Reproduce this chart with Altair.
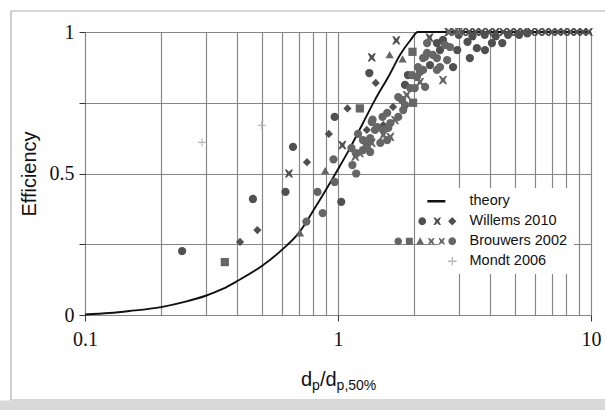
import altair as alt
import pandas as pd

# ---------------- data ----------------
theory_x = [0.1, 0.125, 0.15, 0.2, 0.25, 0.3, 0.35, 0.4, 0.5, 0.6, 0.7, 0.8, 0.9,
            1.0, 1.1, 1.25, 1.4, 1.6, 1.76, 1.93, 2.07, 3.0, 5.0, 10.0]
theory_y = [0.002, 0.007, 0.014, 0.028, 0.047, 0.068, 0.092, 0.12, 0.173, 0.23, 0.29,
            0.37, 0.445, 0.515, 0.58, 0.675, 0.76, 0.85, 0.92, 0.97, 1.0, 1.0, 1.0, 1.0]

willems_circles = [
    (0.242, 0.226), (0.461, 0.41), (0.62, 0.435), (0.664, 0.594), (0.97, 0.70),
    (1.03, 0.40), (1.33, 0.855), (1.89, 0.848), (2.31, 0.883), (2.53, 0.936),
    (2.46, 0.961), (1.84, 0.813), (2.60, 0.972), (2.96, 0.936), (2.85, 0.876),
    (3.32, 0.908), (3.25, 0.965), (3.54, 0.943), (3.81, 0.936), (4.06, 0.961),
    (4.46, 0.961), (3.0, 0.99), (3.4, 0.985), (3.8, 0.99), (4.2, 0.985),
    (4.7, 0.99), (5.2, 0.99), (5.6, 0.995)]
willems_x = [
    (0.64, 0.50), (1.04, 0.60), (1.36, 0.91), (1.70, 0.97), (2.30, 0.98),
    (2.73, 1.0), (2.9, 1.0), (3.1, 1.0), (3.3, 1.0), (3.5, 1.0), (3.7, 1.0),
    (3.95, 1.0), (4.2, 1.0), (4.5, 1.0), (4.8, 1.0), (5.1, 1.0), (5.4, 1.0),
    (5.8, 1.0), (6.2, 1.0), (6.6, 1.0), (7.0, 1.0), (7.4, 1.0), (7.8, 1.0),
    (8.3, 1.0), (8.8, 1.0), (9.3, 1.0), (9.8, 1.0)]
willems_diamonds = [
    (0.41, 0.258), (0.48, 0.30), (0.754, 0.54), (0.92, 0.64), (1.09, 0.73),
    (1.41, 0.82), (1.65, 0.735), (1.30, 0.654), (1.51, 0.671)]
brouwers_circles = [
    (0.75, 0.33), (0.83, 0.435), (0.87, 0.36), (0.96, 0.55), (0.97, 0.47),
    (1.13, 0.59), (1.14, 0.53), (1.18, 0.50), (1.18, 0.57), (1.2, 0.64),
    (1.37, 0.69), (1.51, 0.654), (1.61, 0.678), (1.73, 0.70), (1.79, 0.76),
    (1.93, 0.802), (2.05, 0.841), (2.17, 0.866), (2.17, 0.908), (2.37, 0.919),
    (2.65, 0.954), (1.47, 0.608), (1.40, 0.654), (1.34, 0.625), (1.30, 0.601),
    (1.255, 0.583), (1.50, 0.70), (1.565, 0.714), (1.81, 0.724), (1.73, 0.77),
    (2.01, 0.802), (2.07, 0.876), (2.25, 0.926), (2.46, 0.866), (2.70, 0.901),
    (1.255, 0.618), (1.36, 0.682), (1.58, 0.661), (1.30, 0.59), (1.34, 0.576),
    (1.565, 0.618), (1.43, 0.664), (2.25, 0.961), (2.21, 0.912), (2.46, 0.908),
    (2.77, 0.947), (2.53, 0.876), (1.96, 0.848), (2.11, 0.859), (2.21, 0.806),
    (1.84, 0.742)]
brouwers_squares = [(0.357, 0.187), (1.22, 0.73), (1.97, 0.93), (1.98, 0.75)]
brouwers_triangles = [(0.708, 0.29), (0.89, 0.51), (1.6, 0.92), (1.8, 0.905)]
brouwers_x = [
    (1.17, 0.56), (2.6, 0.83), (1.87, 0.777), (1.61, 0.629), (1.51, 0.636),
    (1.68, 0.689), (2.11, 0.823), (1.36, 0.608), (1.22, 0.572), (2.75, 1.0), (3.0, 1.0)]
mondt_plus = [(0.29, 0.61), (0.50, 0.67)]

SERIES = ["theory", "Willems 2010", "Brouwers 2002", "Mondt 2006"]
SERIES_COLORS = ["#111111", "#505050", "#666666", "#b8b8b8"]

x_grid_values = [0.1, 0.2, 0.3, 0.4, 0.5, 0.6, 0.7, 0.8, 0.9,
                 1, 2, 3, 4, 5, 6, 7, 8, 9, 10]
y_tick_values = [0, 0.25, 0.5, 0.75, 1]

groups = [
    ("Willems 2010", "circle", willems_circles),
    ("Willems 2010", "x", willems_x),
    ("Willems 2010", "diamond", willems_diamonds),
    ("Brouwers 2002", "circle", brouwers_circles),
    ("Brouwers 2002", "square", brouwers_squares),
    ("Brouwers 2002", "triangle", brouwers_triangles),
    ("Brouwers 2002", "x", brouwers_x),
    ("Mondt 2006", "plus", mondt_plus),
]
rows = []
for s, m, pts in groups:
    for px, py in pts:
        rows.append({"x": px, "y": py, "series": s, "marker": m})
points = pd.DataFrame(rows)
theory = pd.DataFrame({"x": theory_x, "y": theory_y})

# ---------------- marker shapes ----------------
def f(v):
    return f"{v:.2f}"

X_PTS = [(-1, -1), (-0.55, -1), (0, -0.45), (0.55, -1), (1, -1), (0.45, 0), (1, 1),
         (0.55, 1), (0, 0.45), (-0.55, 1), (-1, 1), (-0.45, 0)]

def xm(cx, s):
    p = [(cx + a * s, b * s) for a, b in X_PTS]
    return "M" + "L".join(f"{f(a)},{f(b)}" for a, b in p) + "Z"

def circ(cx, r):
    return f"M{f(cx-r)},0A{f(r)},{f(r)} 0 1,0 {f(cx+r)},0A{f(r)},{f(r)} 0 1,0 {f(cx-r)},0Z"

def sq(cx, h):
    return f"M{f(cx-h)},{f(-h)}H{f(cx+h)}V{f(h)}H{f(cx-h)}Z"

def tri(cx, h):
    return f"M{f(cx)},{f(-h)}L{f(cx+h)},{f(h*0.85)}L{f(cx-h)},{f(h*0.85)}Z"

def dia(cx, h):
    return f"M{f(cx)},{f(-h)}L{f(cx+h)},0L{f(cx)},{f(h)}L{f(cx-h)},0Z"

def plus(cx, s, t):
    return (f"M{f(cx-s)},{f(-t)}H{f(cx-t)}V{f(-s)}H{f(cx+t)}V{f(-t)}H{f(cx+s)}"
            f"V{f(t)}H{f(cx+t)}V{f(s)}H{f(cx-t)}V{f(t)}H{f(cx-s)}Z")

def bar(x0, x1, t):
    return f"M{f(x0)},{f(-t)}H{f(x1)}V{f(t)}H{f(x0)}Z"

PAD = "M-21,-1.6L-21,-1.6M1.6,1.6L1.6,1.6"
LEG = {
    "theory": PAD + bar(-8.3, -2.3, 0.45),
    "Willems 2010": PAD + circ(-10, 1.3) + xm(-5, 1.25) + dia(0, 1.4),
    "Brouwers 2002": PAD + circ(-18, 1.25) + sq(-14.3, 1.15) + tri(-10.7, 1.3)
    + xm(-7, 1.1) + xm(-3.5, 1.1) + circ(0, 1.3),
    "Mondt 2006": PAD + plus(0, 1.45, 0.22),
}
shape_expr = (f"datum.value === 'theory' ? '{LEG['theory']}' : "
              f"datum.value === 'Willems 2010' ? '{LEG['Willems 2010']}' : "
              f"datum.value === 'Brouwers 2002' ? '{LEG['Brouwers 2002']}' : "
              f"'{LEG['Mondt 2006']}'")

MARKERS = ["circle", "square", "triangle", "diamond", "x", "plus"]
MARKER_SHAPES = ["circle", "square", "triangle-up", "diamond", xm(0, 1), plus(0, 1, 0.14)]

# ---------------- scales & axes ----------------
xscale = alt.Scale(type="log", domain=[0.1, 10], nice=False)
yscale = alt.Scale(domain=[0, 1], nice=False, zero=False)

xaxis = alt.Axis(
    values=x_grid_values, title=None, grid=True, gridColor="#858585", gridWidth=1.15,
    domain=False, tickSize=6, tickColor="#333333",
    tickOpacity={"condition": {"test": "datum.value == 0.1 || datum.value == 1 || datum.value == 10",
                               "value": 1}, "value": 0},
    labelExpr="datum.value == 0.1 ? '0.1' : datum.value == 1 ? '1' : datum.value == 10 ? '10' : ''",
    labelFont="Liberation Serif", labelFontSize=20, labelColor="#111111",
    labelPadding=8, labelOverlap=False, labelFlush=False, labelBound=False)
yaxis = alt.Axis(
    values=y_tick_values, title="Efficiency", grid=True, gridColor="#858585", gridWidth=1.15,
    domain=False, tickSize=6, tickColor="#333333",
    labelExpr="datum.value == 0 ? '0' : datum.value == 0.5 ? '0.5' : datum.value == 1 ? '1' : ''",
    labelFont="Liberation Serif", labelFontSize=20, labelColor="#111111", labelPadding=5,
    labelOverlap=False, labelFlush=False, labelBound=False,
    titleFont="Liberation Sans", titleFontSize=20, titleFontWeight="normal",
    titleColor="#111111", titleX=-50, titleY=141.5, titleBaseline="alphabetic",
    titleAngle=270)

legend = alt.Legend(
    title=None, orient="none", legendX=354, legendY=156, padding=6, fillColor="white",
    symbolSize=36, symbolStrokeWidth=0, labelFont="Liberation Sans", labelFontSize=14.5,
    labelColor="#111111", labelOffset=10, rowPadding=5,
    symbolType={"expr": shape_expr})

# ---------------- layers ----------------
one = pd.DataFrame({"k": [0]})

frame = alt.Chart(one).mark_rect(fillOpacity=0, stroke="#b0b0b0", strokeWidth=1.2).encode(
    x=alt.value(-74), x2=alt.value(700), y=alt.value(-21), y2=alt.value(368))
band = alt.Chart(one).mark_rect(color="#d9d9d9").encode(
    x=alt.value(-90), x2=alt.value(700), y=alt.value(368.6), y2=alt.value(390))

line = alt.Chart(theory).mark_line(color="#111111", strokeWidth=1.9, interpolate="monotone").encode(
    x=alt.X("x:Q", scale=xscale, axis=xaxis),
    y=alt.Y("y:Q", scale=yscale, axis=yaxis))

pts = alt.Chart(points).mark_point(filled=True, opacity=1, size=68, strokeWidth=0).encode(
    x=alt.X("x:Q", scale=xscale, axis=xaxis),
    y=alt.Y("y:Q", scale=yscale, axis=yaxis),
    color=alt.Color("series:N", scale=alt.Scale(domain=SERIES, range=SERIES_COLORS), legend=legend),
    shape=alt.Shape("marker:N", scale=alt.Scale(domain=MARKERS, range=MARKER_SHAPES), legend=None))

title_parts = [("d", 216, 354, 20), ("p", 227.1, 358, 14), ("/d", 234.9, 354, 20),
               ("p,50%", 251.6, 358, 14)]
texts = [alt.Chart(one).mark_text(align="left", baseline="alphabetic", font="Liberation Sans",
                                  fontSize=fs, color="#111111").encode(
    x=alt.value(tx), y=alt.value(ty), text=alt.value(t)) for t, tx, ty, fs in title_parts]

chart = alt.layer(frame, band, line, pts, *texts).properties(
    width=506, height=283,
    padding={"left": 85, "top": 32, "right": 14, "bottom": 95},
    autosize=alt.AutoSizeParams(type="none"),
).configure_view(stroke="#222222", strokeWidth=1.7).configure(background="white")

chart.save("out.html", embed_options={"renderer": "svg", "actions": False})
